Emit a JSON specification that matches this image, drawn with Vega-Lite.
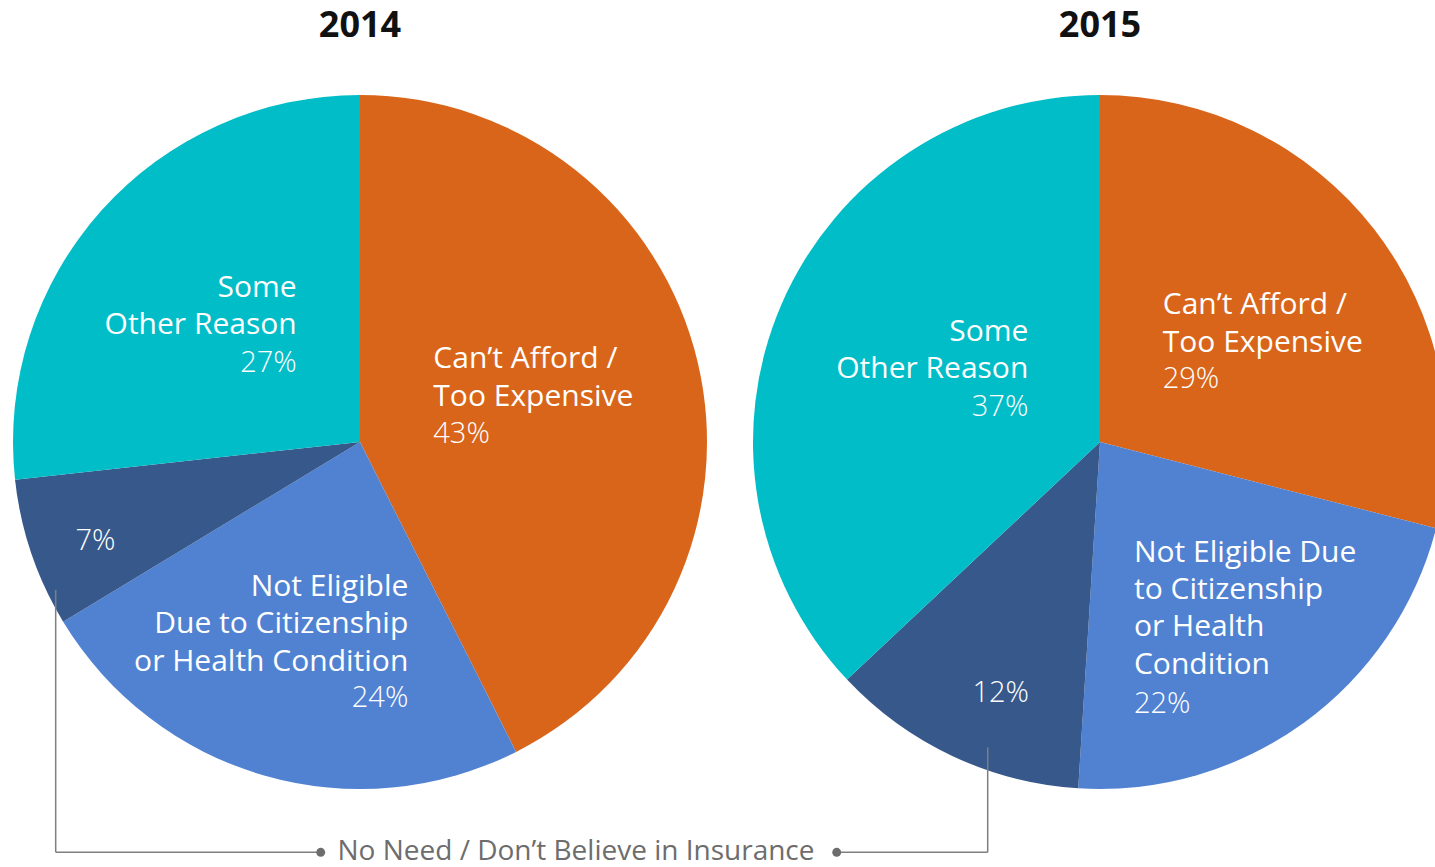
{
  "$schema": "https://vega.github.io/schema/vega-lite/v6.json",
  "autosize": {"type": "none"},
  "width": 1435,
  "height": 850,
  "padding": {"left": 0, "top": 17, "right": 0, "bottom": 0},
  "background": "#ffffff",
  "config": {"view": {"stroke": null}},
  "datasets": {
    "reasons": [
      {"year": "2014", "key": "afford", "order": 1, "value": 0.43, "label": "Can’t Afford /\nToo Expensive"},
      {"year": "2014", "key": "eligible", "order": 2, "value": 0.24, "label": "Not Eligible\nDue to Citizenship\nor Health Condition"},
      {"year": "2014", "key": "noneed", "order": 3, "value": 0.07, "label": "No Need / Don’t Believe in Insurance"},
      {"year": "2014", "key": "other", "order": 4, "value": 0.27, "label": "Some\nOther Reason"},
      {"year": "2015", "key": "afford", "order": 1, "value": 0.29, "label": "Can’t Afford /\nToo Expensive"},
      {"year": "2015", "key": "eligible", "order": 2, "value": 0.22, "label": "Not Eligible Due\nto Citizenship\nor Health\nCondition"},
      {"year": "2015", "key": "noneed", "order": 3, "value": 0.12, "label": "No Need / Don’t Believe in Insurance"},
      {"year": "2015", "key": "other", "order": 4, "value": 0.37, "label": "Some\nOther Reason"}
    ],
    "years": [{"year": "2014"}, {"year": "2015"}],
    "connector": [
      {"x1": -0.87695, "y1": -0.42651, "x2": -0.87695, "y2": -1.18242},
      {"x1": -0.87695, "y1": -1.18242, "x2": -0.11326, "y2": -1.18242},
      {"x1": 1.37378, "y1": -1.18242, "x2": 1.80893, "y2": -1.18242},
      {"x1": 1.80893, "y1": -1.18242, "x2": 1.80893, "y2": -0.87983}
    ],
    "dots": [
      {"x": -0.11326, "y": -1.18242},
      {"x": 1.37378, "y": -1.18242}
    ],
    "note": [
      {"x": 0.62248, "y": -1.20461, "text": "No Need / Don’t Believe in Insurance"}
    ]
  },
  "resolve": {"scale": {"x": "independent", "y": "independent"}},
  "layer": [
    {
      "data": {"name": "reasons"},
      "encoding": {
        "x": {"field": "year", "type": "ordinal", "scale": {"type": "point", "domain": ["2014", "2015"], "range": [360, 1100], "padding": 0}, "axis": null},
        "theta": {"field": "value", "type": "quantitative", "stack": "normalize"},
        "order": {"field": "order", "type": "quantitative"}
      },
      "layer": [
        {
          "transform": [{"filter": "datum.year === '2014'"}],
          "mark": {"type": "arc", "outerRadius": 347, "clip": true},
          "encoding": {
            "color": {"field": "key", "type": "nominal", "scale": {"domain": ["afford", "eligible", "noneed", "other"], "range": ["#D9651A", "#5182D2", "#36588B", "#00BDC7"]}, "legend": null}
          }
        },
        {
          "transform": [{"filter": "datum.year === '2015'"}],
          "mark": {"type": "arc", "outerRadius": 347, "clip": true},
          "encoding": {
            "color": {"field": "key", "type": "nominal", "legend": null}
          }
        },
        {
          "transform": [{"filter": "datum.year === '2014'"}],
          "mark": {"type": "text", "radius": 88, "dx": -12.3, "dy": -53.4, "align": "left", "baseline": "alphabetic", "font": "Open Sans", "fontSize": 30, "lineHeight": 37.3, "lineBreak": "\n", "color": "#ffffff"},
          "encoding": {"text": {"condition": {"test": "datum.key === 'afford'", "field": "label", "type": "nominal"}, "value": ""}}
        },
        {
          "transform": [{"filter": "datum.year === '2014'"}],
          "mark": {"type": "text", "radius": 88, "dx": -12.3, "dy": 21.4, "align": "left", "baseline": "alphabetic", "font": "Open Sans", "fontWeight": 300, "fontSize": 29, "color": "#ffffff"},
          "encoding": {"text": {"condition": {"test": "datum.key === 'afford'", "field": "value", "type": "quantitative", "format": ".0%"}, "value": ""}}
        },
        {
          "transform": [{"filter": "datum.year === '2014'"}],
          "mark": {"type": "text", "radius": 135, "dx": 85.6, "dy": 24.25, "align": "right", "baseline": "alphabetic", "font": "Open Sans", "fontSize": 30, "lineHeight": 37.3, "lineBreak": "\n", "color": "#ffffff"},
          "encoding": {"text": {"condition": {"test": "datum.key === 'eligible'", "field": "label", "type": "nominal"}, "value": ""}}
        },
        {
          "transform": [{"filter": "datum.year === '2014'"}],
          "mark": {"type": "text", "radius": 135, "dx": 85.6, "dy": 134.95, "align": "right", "baseline": "alphabetic", "font": "Open Sans", "fontWeight": 300, "fontSize": 29, "color": "#ffffff"},
          "encoding": {"text": {"condition": {"test": "datum.key === 'eligible'", "field": "value", "type": "quantitative", "format": ".0%"}, "value": ""}}
        },
        {
          "transform": [{"filter": "datum.year === '2014'"}],
          "mark": {"type": "text", "radius": 285, "dx": 5.4, "dy": 16.6, "align": "center", "baseline": "alphabetic", "font": "Open Sans", "fontWeight": 300, "fontSize": 29, "color": "#ffffff"},
          "encoding": {"text": {"condition": {"test": "datum.key === 'noneed'", "field": "value", "type": "quantitative", "format": ".0%"}, "value": ""}}
        },
        {
          "transform": [{"filter": "datum.year === '2014'"}],
          "mark": {"type": "text", "radius": 144, "dx": 43.9, "dy": -49.1, "align": "right", "baseline": "alphabetic", "font": "Open Sans", "fontSize": 30, "lineHeight": 37.3, "lineBreak": "\n", "color": "#ffffff"},
          "encoding": {"text": {"condition": {"test": "datum.key === 'other'", "field": "label", "type": "nominal"}, "value": ""}}
        },
        {
          "transform": [{"filter": "datum.year === '2014'"}],
          "mark": {"type": "text", "radius": 144, "dx": 43.9, "dy": 25.9, "align": "right", "baseline": "alphabetic", "font": "Open Sans", "fontWeight": 300, "fontSize": 29, "color": "#ffffff"},
          "encoding": {"text": {"condition": {"test": "datum.key === 'other'", "field": "value", "type": "quantitative", "format": ".0%"}, "value": ""}}
        },
        {
          "transform": [{"filter": "datum.year === '2015'"}],
          "mark": {"type": "text", "radius": 128, "dx": -38.4, "dy": -49.25, "align": "left", "baseline": "alphabetic", "font": "Open Sans", "fontSize": 30, "lineHeight": 37.3, "lineBreak": "\n", "color": "#ffffff"},
          "encoding": {"text": {"condition": {"test": "datum.key === 'afford'", "field": "label", "type": "nominal"}, "value": ""}}
        },
        {
          "transform": [{"filter": "datum.year === '2015'"}],
          "mark": {"type": "text", "radius": 128, "dx": -38.4, "dy": 24.75, "align": "left", "baseline": "alphabetic", "font": "Open Sans", "fontWeight": 300, "fontSize": 29, "color": "#ffffff"},
          "encoding": {"text": {"condition": {"test": "datum.key === 'afford'", "field": "value", "type": "quantitative", "format": ".0%"}, "value": ""}}
        },
        {
          "transform": [{"filter": "datum.year === '2015'"}],
          "mark": {"type": "text", "radius": 117, "dx": -34.8, "dy": 25.05, "align": "left", "baseline": "alphabetic", "font": "Open Sans", "fontSize": 30, "lineHeight": 37.3, "lineBreak": "\n", "color": "#ffffff"},
          "encoding": {"text": {"condition": {"test": "datum.key === 'eligible'", "field": "label", "type": "nominal"}, "value": ""}}
        },
        {
          "transform": [{"filter": "datum.year === '2015'"}],
          "mark": {"type": "text", "radius": 117, "dx": -34.8, "dy": 176.05, "align": "left", "baseline": "alphabetic", "font": "Open Sans", "fontWeight": 300, "fontSize": 29, "color": "#ffffff"},
          "encoding": {"text": {"condition": {"test": "datum.key === 'eligible'", "field": "value", "type": "quantitative", "format": ".0%"}, "value": ""}}
        },
        {
          "transform": [{"filter": "datum.year === '2015'"}],
          "mark": {"type": "text", "radius": 277, "dx": 18.7, "dy": 9.1, "align": "center", "baseline": "alphabetic", "font": "Open Sans", "fontWeight": 300, "fontSize": 29, "color": "#ffffff"},
          "encoding": {"text": {"condition": {"test": "datum.key === 'noneed'", "field": "value", "type": "quantitative", "format": ".0%"}, "value": ""}}
        },
        {
          "transform": [{"filter": "datum.year === '2015'"}],
          "mark": {"type": "text", "radius": 106, "dx": 25.6, "dy": -58.9, "align": "right", "baseline": "alphabetic", "font": "Open Sans", "fontSize": 30, "lineHeight": 37.3, "lineBreak": "\n", "color": "#ffffff"},
          "encoding": {"text": {"condition": {"test": "datum.key === 'other'", "field": "label", "type": "nominal"}, "value": ""}}
        },
        {
          "transform": [{"filter": "datum.year === '2015'"}],
          "mark": {"type": "text", "radius": 106, "dx": 25.6, "dy": 16.1, "align": "right", "baseline": "alphabetic", "font": "Open Sans", "fontWeight": 300, "fontSize": 29, "color": "#ffffff"},
          "encoding": {"text": {"condition": {"test": "datum.key === 'other'", "field": "value", "type": "quantitative", "format": ".0%"}, "value": ""}}
        },
        {
          "data": {"name": "years"},
          "mark": {"type": "text", "dy": -405.3, "align": "center", "baseline": "alphabetic", "font": "Open Sans", "fontWeight": "bold", "fontSize": 36, "color": "#111111"},
          "encoding": {
            "x": {"field": "year", "type": "ordinal", "scale": {"type": "point", "domain": ["2014", "2015"], "range": [360, 1100], "padding": 0}, "axis": null},
            "theta": null,
            "order": null,
            "text": {"field": "year", "type": "nominal"}
          }
        }
      ]
    },
    {
      "layer": [
        {
          "data": {"name": "connector"},
          "mark": {"type": "rule", "color": "#7f7f7f", "strokeWidth": 1.5},
          "encoding": {
            "x": {"field": "x1", "type": "quantitative", "scale": {"domain": [-1.03746, 3.09798], "nice": false, "zero": false}, "axis": null},
            "x2": {"field": "x2"},
            "y": {"field": "y1", "type": "quantitative", "scale": {"domain": [-1.22478, 1.22478], "nice": false, "zero": false}, "axis": null},
            "y2": {"field": "y2"}
          }
        },
        {
          "data": {"name": "dots"},
          "mark": {"type": "circle", "size": 80, "opacity": 1, "color": "#6d6d6d"},
          "encoding": {
            "x": {"field": "x", "type": "quantitative"},
            "y": {"field": "y", "type": "quantitative"}
          }
        },
        {
          "data": {"name": "note"},
          "mark": {"type": "text", "align": "center", "baseline": "alphabetic", "font": "Open Sans", "fontSize": 28, "color": "#6d6d6d"},
          "encoding": {
            "x": {"field": "x", "type": "quantitative"},
            "y": {"field": "y", "type": "quantitative"},
            "text": {"field": "text", "type": "nominal"}
          }
        }
      ]
    }
  ]
}
